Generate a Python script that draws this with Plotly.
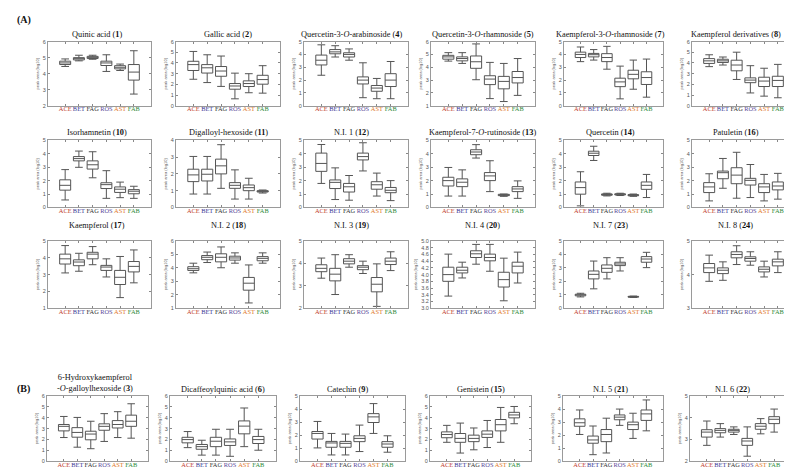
import plotly.graph_objects as go

W, H = 792, 472

CATEGORIES = ["ACE", "BET", "FAG", "ROS", "AST", "FAB"]
CAT_COLORS = ["#c0392b", "#3a3a96", "#333333", "#5a4a9a", "#e0782a", "#2e8b3a"]
POSITIONS = [1, 2, 3, 4, 5, 6]

# Box statistics, one tuple per category (ACE..FAB):
# (lower whisker, Q1, median, Q3, upper whisker), peak area in log10
QUINIC_ACID_1 = [(4.45, 4.57, 4.67, 4.78, 4.92), (4.80, 4.86, 4.95, 5.00, 5.15), (4.90, 4.95, 5.02, 5.08, 5.15),
                 (4.14, 4.51, 4.67, 4.78, 5.18), (4.20, 4.30, 4.40, 4.50, 4.60), (2.73, 3.60, 4.10, 4.57, 5.43)]
GALLIC_ACID_2 = [(2.48, 3.30, 3.85, 4.16, 5.08), (2.17, 3.06, 3.55, 3.85, 4.77), (1.81, 2.76, 3.25, 3.67, 4.65),
                 (0.65, 1.55, 1.85, 2.08, 3.05), (1.22, 1.80, 2.08, 2.33, 3.00), (1.18, 2.02, 2.45, 2.85, 3.75)]
Q3_ARABINOSIDE_4 = [(2.38, 3.18, 3.55, 3.95, 4.75), (3.80, 4.05, 4.20, 4.38, 4.68), (3.55, 3.80, 4.00, 4.13, 4.43),
                    (0.63, 1.70, 2.00, 2.25, 3.35), (0.55, 1.13, 1.38, 1.58, 2.13), (0.55, 1.50, 2.00, 2.50, 3.45)]
Q3_RHAMNOSIDE_5 = [(4.48, 4.63, 4.81, 4.93, 5.14), (4.30, 4.50, 4.68, 4.81, 5.14), (3.03, 3.92, 4.43, 4.88, 5.82),
                   (1.56, 2.65, 3.08, 3.34, 4.38), (1.33, 2.32, 2.90, 3.29, 4.30), (1.81, 2.78, 3.20, 3.67, 4.68)]
K3_RHAMNOSIDE_7 = [(3.44, 3.76, 4.00, 4.18, 4.58), (3.56, 3.81, 3.98, 4.08, 4.38), (2.85, 3.44, 3.76, 4.06, 4.63),
                   (0.54, 1.49, 1.86, 2.15, 3.09), (1.29, 2.10, 2.45, 2.77, 3.56), (0.67, 1.66, 2.20, 2.65, 3.64)]
K_DERIVATIVES_8 = [(3.66, 3.96, 4.20, 4.41, 4.77), (3.81, 4.05, 4.20, 4.35, 4.56), (2.46, 3.27, 3.81, 4.26, 5.01),
                   (1.20, 2.16, 2.40, 2.61, 3.75), (0.90, 1.80, 2.31, 2.67, 3.51), (0.75, 1.80, 2.37, 2.76, 3.87)]
ISORHAMNETIN_10 = [(0.56, 1.29, 1.65, 2.06, 2.82), (2.99, 3.47, 3.64, 3.79, 4.20), (2.21, 2.86, 3.18, 3.47, 4.15),
                   (0.68, 1.41, 1.70, 1.84, 2.74), (0.73, 1.12, 1.36, 1.53, 1.89), (0.68, 1.02, 1.21, 1.33, 1.58)]
DIGALLOYL_11 = [(0.80, 1.54, 1.94, 2.28, 3.04), (0.80, 1.58, 1.98, 2.28, 3.04), (1.14, 2.00, 2.48, 2.88, 3.74),
                (0.50, 1.14, 1.32, 1.48, 2.24), (0.50, 1.00, 1.18, 1.34, 1.74), (0.86, 0.92, 0.96, 1.00, 1.04)]
NI1_12 = [(1.79, 2.69, 3.28, 4.05, 4.69), (0.59, 1.41, 1.87, 2.05, 2.95), (0.54, 1.15, 1.54, 1.79, 2.38),
          (2.72, 3.54, 3.79, 4.05, 4.82), (0.85, 1.36, 1.69, 1.92, 2.56), (0.51, 1.10, 1.28, 1.49, 2.00)]
K7_RUTINOSIDE_13 = [(0.85, 1.60, 2.00, 2.25, 2.98), (0.85, 1.55, 1.88, 2.13, 2.80), (3.68, 3.93, 4.13, 4.30, 4.68),
                    (1.18, 2.00, 2.35, 2.60, 3.48), (0.83, 0.88, 0.93, 0.98, 1.00), (0.68, 1.18, 1.38, 1.55, 1.98)]
QUERCETIN_14 = [(0.12, 0.99, 1.48, 1.90, 2.66), (3.50, 3.87, 4.04, 4.19, 4.56), (0.86, 0.91, 0.96, 1.01, 1.06),
                (0.89, 0.93, 0.98, 1.02, 1.06), (0.83, 0.87, 0.91, 0.96, 1.00), (0.74, 1.35, 1.65, 1.90, 2.46)]
PATULETIN_16 = [(0.49, 1.11, 1.53, 1.85, 2.51), (1.43, 2.14, 2.59, 2.71, 3.65), (0.69, 1.77, 2.41, 2.96, 4.11),
                (0.74, 1.67, 2.02, 2.17, 3.20), (0.49, 1.11, 1.53, 1.77, 2.46), (0.62, 1.31, 1.60, 1.90, 2.54)]
KAEMPFEROL_17 = [(3.10, 3.63, 3.94, 4.22, 4.73), (3.20, 3.53, 3.75, 3.88, 4.27), (3.59, 3.94, 4.22, 4.33, 4.67),
                 (2.86, 3.25, 3.45, 3.55, 3.94), (1.63, 2.41, 2.84, 3.25, 4.08), (2.51, 3.16, 3.49, 3.78, 4.47)]
NI2_18 = [(3.63, 3.81, 3.94, 4.09, 4.35), (4.40, 4.61, 4.79, 4.92, 5.18), (4.01, 4.45, 4.79, 5.05, 5.56),
          (4.35, 4.58, 4.74, 4.87, 5.12), (1.39, 2.34, 2.86, 3.29, 4.22), (4.35, 4.53, 4.71, 4.84, 5.12)]
NI3_19 = [(3.34, 3.63, 3.78, 3.94, 4.24), (2.61, 3.22, 3.52, 3.78, 4.39), (3.83, 3.98, 4.10, 4.21, 4.39),
          (3.55, 3.72, 3.83, 3.90, 4.10), (2.08, 2.73, 3.07, 3.37, 3.98), (3.68, 3.95, 4.10, 4.24, 4.52)]
NI4_20 = [(3.36, 3.80, 4.00, 4.22, 4.61), (3.90, 4.05, 4.13, 4.22, 4.37), (4.31, 4.51, 4.62, 4.71, 4.90),
          (4.10, 4.41, 4.51, 4.61, 4.90), (3.22, 3.63, 3.85, 4.07, 4.49), (3.75, 4.05, 4.25, 4.37, 4.67)]
NI7_23 = [(0.84, 0.92, 0.99, 1.04, 1.11), (1.44, 2.18, 2.52, 2.77, 3.51), (2.18, 2.67, 2.97, 3.22, 3.76),
          (2.77, 3.17, 3.29, 3.42, 3.76), (0.80, 0.82, 0.85, 0.88, 0.90), (3.02, 3.42, 3.66, 3.84, 4.16)]
NI8_24 = [(3.80, 4.06, 4.20, 4.33, 4.58), (3.83, 4.03, 4.13, 4.20, 4.38), (4.30, 4.50, 4.60, 4.68, 4.86),
          (4.28, 4.40, 4.48, 4.53, 4.68), (3.93, 4.08, 4.16, 4.23, 4.40), (4.06, 4.26, 4.38, 4.46, 4.68)]
HYDROXYK_3 = [(2.18, 2.79, 3.21, 3.38, 4.12), (1.29, 2.21, 2.65, 3.09, 4.03), (1.15, 1.97, 2.50, 2.76, 3.68),
              (1.82, 2.85, 3.21, 3.44, 4.38), (2.18, 3.06, 3.38, 3.74, 4.56), (2.12, 3.21, 3.68, 4.24, 5.29)]
DICAFFEOYL_6 = [(1.25, 1.69, 1.99, 2.20, 2.73), (0.56, 1.10, 1.34, 1.54, 1.93), (0.56, 1.34, 1.84, 2.20, 2.94),
                (0.45, 1.45, 1.78, 2.05, 2.94), (1.34, 2.52, 3.23, 3.71, 4.90), (1.01, 1.63, 1.99, 2.28, 2.94)]
CATECHIN_9 = [(1.02, 1.70, 2.13, 2.28, 3.05), (0.48, 1.07, 1.40, 1.52, 2.13), (0.48, 1.07, 1.37, 1.52, 2.08),
              (0.74, 1.50, 1.75, 1.95, 2.77), (2.13, 2.97, 3.40, 3.65, 4.42), (0.69, 1.07, 1.32, 1.50, 1.95)]
GENISTEIN_15 = [(1.74, 2.16, 2.46, 2.70, 3.30), (0.75, 1.74, 2.10, 2.55, 3.51), (1.05, 1.80, 2.10, 2.40, 3.06),
                (1.26, 2.19, 2.49, 2.79, 3.75), (1.74, 2.79, 3.36, 3.84, 4.95), (3.45, 3.99, 4.26, 4.50, 5.04)]
NI5_21 = [(2.05, 2.68, 2.95, 3.25, 3.93), (0.50, 1.38, 1.63, 1.93, 2.70), (0.63, 1.50, 2.05, 2.43, 3.30),
          (2.75, 3.18, 3.38, 3.55, 4.00), (1.75, 2.43, 2.80, 3.00, 3.68), (2.33, 3.13, 3.63, 3.93, 4.70)]
NI6_22 = [(2.73, 3.11, 3.34, 3.45, 3.85), (3.11, 3.31, 3.42, 3.50, 3.73), (3.23, 3.34, 3.42, 3.47, 3.58),
          (2.23, 2.73, 2.93, 3.05, 3.58), (3.26, 3.47, 3.61, 3.73, 3.96), (3.34, 3.73, 3.93, 4.05, 4.40)]

# (title, stats, y min, y max, y tick step) in grid order
PANELS = [
    ("Quinic acid (<b>1</b>)", QUINIC_ACID_1, 2, 6, 1),
    ("Gallic acid (<b>2</b>)", GALLIC_ACID_2, 0, 6, 1),
    ("Quercetin-3-<i>O</i>-arabinoside (<b>4</b>)", Q3_ARABINOSIDE_4, 0, 5, 1),
    ("Quercetin-3-<i>O</i>-rhamnoside (<b>5</b>)", Q3_RHAMNOSIDE_5, 1, 6, 1),
    ("Kaempferol-3-<i>O</i>-rhamnoside (<b>7</b>)", K3_RHAMNOSIDE_7, 0, 5, 1),
    ("Kaempferol derivatives (<b>8</b>)", K_DERIVATIVES_8, 0, 6, 1),
    ("Isorhamnetin (<b>10</b>)", ISORHAMNETIN_10, 0, 5, 1),
    ("Digalloyl-hexoside (<b>11</b>)", DIGALLOYL_11, 0, 4, 1),
    ("N.I. 1 (<b>12</b>)", NI1_12, 0, 5, 1),
    ("Kaempferol-7-<i>O</i>-rutinoside (<b>13</b>)", K7_RUTINOSIDE_13, 0, 5, 1),
    ("Quercetin (<b>14</b>)", QUERCETIN_14, 0, 5, 1),
    ("Patuletin (<b>16</b>)", PATULETIN_16, 0, 5, 1),
    ("Kaempferol (<b>17</b>)", KAEMPFEROL_17, 1, 5, 1),
    ("N.I. 2 (<b>18</b>)", NI2_18, 1, 6, 1),
    ("N.I. 3 (<b>19</b>)", NI3_19, 2, 5, 1),
    ("N.I. 4 (<b>20</b>)", NI4_20, 3, 5, 0.2),
    ("N.I. 7 (<b>23</b>)", NI7_23, 0, 5, 1),
    ("N.I. 8 (<b>24</b>)", NI8_24, 3, 5, 1),
    ("6-Hydroxykaempferol<br>-<i>O</i>-galloylhexoside (<b>3</b>)", HYDROXYK_3, 0, 6, 1),
    ("Dicaffeoylquinic acid (<b>6</b>)", DICAFFEOYL_6, 0, 6, 1),
    ("Catechin (<b>9</b>)", CATECHIN_9, 0, 5, 1),
    ("Genistein (<b>15</b>)", GENISTEIN_15, 0, 6, 1),
    ("N.I. 5 (<b>21</b>)", NI5_21, 0, 5, 1),
    ("N.I. 6 (<b>22</b>)", NI6_22, 2, 5, 1),
]

# ---- layout geometry (pixels) ----
ROWS_Y = [(31, 96), (131, 199), (233, 301), (390, 456)]
TITLE_Y = [24, 123, 217, 383]
COLS_A = [(40, 143), (168, 272), (296, 400), (423, 527), (556, 655), (684, 787)]
COLS_B = [(39, 140), (162, 268), (292, 397), (422, 523), (555, 655), (682, 783)]
TITLE_DX = [-3, 0, -5, 0, -3, -8]

SERIF = "Liberation Serif, Times New Roman, serif"
SANS = "Liberation Sans, Arial, sans-serif"

ticktext = [f'<span style="color:{c}">{t}</span>' for t, c in zip(CATEGORIES, CAT_COLORS)]

fig = go.Figure()
annotations = []
layout_axes = {}

for k, (title, stats, ymin, ymax, ystep) in enumerate(PANELS, start=1):
    r = (k - 1) // 6
    c = (k - 1) % 6
    x0, x1 = (COLS_B if r == 3 else COLS_A)[c]
    y0, y1 = ROWS_Y[r]
    xname = "x" if k == 1 else f"x{k}"
    yname = "y" if k == 1 else f"y{k}"
    fig.add_trace(go.Box(
        x=POSITIONS,
        lowerfence=[s[0] for s in stats],
        q1=[s[1] for s in stats],
        median=[s[2] for s in stats],
        q3=[s[3] for s in stats],
        upperfence=[s[4] for s in stats],
        orientation="v",
        xaxis=xname, yaxis=yname,
        width=0.8, whiskerwidth=0.7,
        fillcolor="white",
        line=dict(color="#555555", width=1),
        boxpoints=False, showlegend=False, hoverinfo="skip",
    ))
    n = int(round((ymax - ymin) / ystep))
    yt = [round(ymin + i * ystep, 3) for i in range(n + 1)]
    ytt = [f"{v:.1f}" if ystep < 1 else f"{v:g}" for v in yt]
    layout_axes["xaxis" if k == 1 else f"xaxis{k}"] = dict(
        domain=[x0 / W, x1 / W], anchor=yname,
        range=[-0.25, 7.25], tickvals=POSITIONS, ticktext=ticktext, tickangle=0,
        tickfont=dict(family=SERIF, size=6.4),
        ticks="inside", ticklen=2, tickcolor="#888888", ticklabelstandoff=-3,
        showline=True, linecolor="#9a9a9a", linewidth=1, mirror="ticks",
        showgrid=False, zeroline=False, fixedrange=True,
    )
    layout_axes["yaxis" if k == 1 else f"yaxis{k}"] = dict(
        domain=[1 - y1 / H, 1 - y0 / H], anchor=xname,
        range=[ymin, ymax], tickvals=yt, ticktext=ytt,
        tickfont=dict(family=SANS, size=5.5, color="#555555"),
        ticks="inside", ticklen=2, tickcolor="#888888",
        showline=True, linecolor="#9a9a9a", linewidth=1, mirror="ticks",
        showgrid=False, zeroline=False, fixedrange=True,
        title=dict(text="peak area (log10)", font=dict(family=SANS, size=4, color="#555555"), standoff=3),
    )
    ty = TITLE_Y[r] - (6 if "<br>" in title else 0)
    annotations.append(dict(
        text=title, x=((x0 + x1) / 2 + TITLE_DX[c]) / W, y=1 - ty / H, xref="paper", yref="paper",
        xanchor="center", yanchor="middle", showarrow=False,
        font=dict(family=SERIF, size=8.3, color="#111111"),
    ))

annotations.append(dict(text="<b>(A)</b>", x=7 / W, y=1 - 9 / H, xref="paper", yref="paper",
                        xanchor="left", yanchor="middle", showarrow=False,
                        font=dict(family=SERIF, size=10, color="#111111")))
annotations.append(dict(text="<b>(B)</b>", x=7 / W, y=1 - 383 / H, xref="paper", yref="paper",
                        xanchor="left", yanchor="middle", showarrow=False,
                        font=dict(family=SERIF, size=10, color="#111111")))

fig.update_layout(
    width=W, height=H,
    margin=dict(l=0, r=0, t=0, b=0),
    paper_bgcolor="white", plot_bgcolor="white",
    annotations=annotations,
    **layout_axes,
)

fig.write_html("out.html")
